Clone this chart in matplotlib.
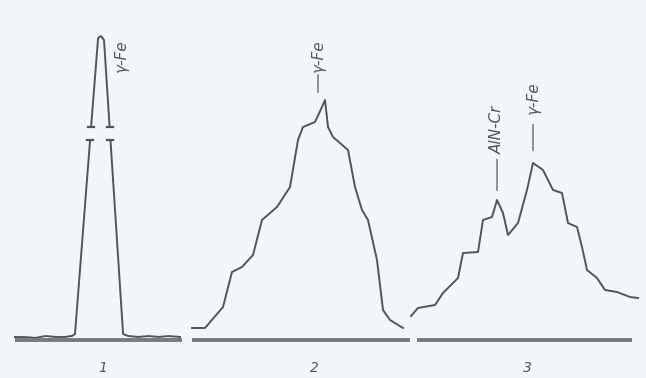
import matplotlib.pyplot as plt
import numpy as np

# x: channel position, y: intensity above the baseline
p1_x = [15, 25, 35, 45, 55, 65, 72, 75, 98, 101, 104, 123, 128, 138, 148, 158, 168, 180]
p1_y = [3, 3, 2, 4, 3, 3, 4, 6, 302, 304, 300, 6, 4, 3, 4, 3, 4, 3]

p2_x = [192, 205, 223, 232, 242, 253, 262, 277, 290, 298, 303, 315, 322, 325, 328, 333, 348, 355, 362, 368, 377, 383, 390, 403]
p2_y = [12, 12, 33, 68, 73, 85, 120, 133, 153, 200, 213, 218, 233, 240, 213, 203, 190, 153, 130, 120, 80, 30, 20, 12]

p3_x = [411, 418, 435, 443, 458, 463, 478, 483, 492, 497, 503, 508, 518, 527, 533, 543, 553, 562, 568, 577, 582, 587, 597, 605, 617, 630, 638]
p3_y = [24, 32, 35, 47, 62, 87, 88, 120, 123, 140, 127, 105, 117, 150, 177, 170, 150, 147, 117, 113, 93, 70, 62, 50, 48, 43, 42]

baselines = [(15, 182), (192, 410), (417, 632)]
gap = (200, 213)  # break in the tall peak of panel 1

peak_labels = [(121, 268, "γ-Fe"), (318, 268, "γ-Fe"), (497, 186, "AlN-Cr"), (533, 226, "γ-Fe")]
label_ticks = [(318, 248, 265), (497, 150, 180), (533, 190, 215)]
panel_names = [(103, "1"), (314, "2"), (527, "3")]

bg = "#f4f5f7"
ink = "#555555"

fig = plt.figure(figsize=(6.46, 3.78), dpi=100, facecolor=bg)
ax = fig.add_axes([0, 0, 1, 1])
ax.set_facecolor(bg)
ax.set_xlim(0, 646)
ax.set_ylim(-38, 340)
ax.axis("off")

# panel 1: trace the polyline finely so the break can be cut out
t = np.linspace(0, len(p1_x) - 1, 4000)
idx = np.arange(len(p1_x))
xd = np.interp(t, idx, p1_x)
yd = np.interp(t, idx, p1_y)
yd[(yd > gap[0]) & (yd < gap[1])] = np.nan
ax.plot(xd, yd, color=ink, lw=1.4)
for xa, xb in [(np.interp(gap[0], [6, 302], [75, 98]), np.interp(gap[1], [6, 302], [75, 98])),
               (np.interp(gap[0], [6, 300], [123, 104]), np.interp(gap[1], [6, 300], [123, 104]))]:
    ax.plot([xa - 3, xa + 3], [gap[0], gap[0]], color=ink, lw=1.6)
    ax.plot([xb - 3, xb + 3], [gap[1], gap[1]], color=ink, lw=1.6)

ax.plot(p2_x, p2_y, color=ink, lw=1.4)
ax.plot(p3_x, p3_y, color=ink, lw=1.4)

for a, b in baselines:
    ax.plot([a, b], [0, 0], color="#7a7a7a", lw=2.8, solid_capstyle="butt")

for x, y, s in peak_labels:
    ax.text(x, y, s, rotation=90, ha="center", va="bottom", fontsize=11,
            color=ink, style="italic")
for x, a, b in label_ticks:
    ax.plot([x, x], [a, b], color="#888888", lw=1.3)

for x, s in panel_names:
    ax.text(x, -28, s, ha="center", va="center", fontsize=10, color=ink, style="italic")

fig.savefig("out.png", dpi=100, facecolor=bg)
